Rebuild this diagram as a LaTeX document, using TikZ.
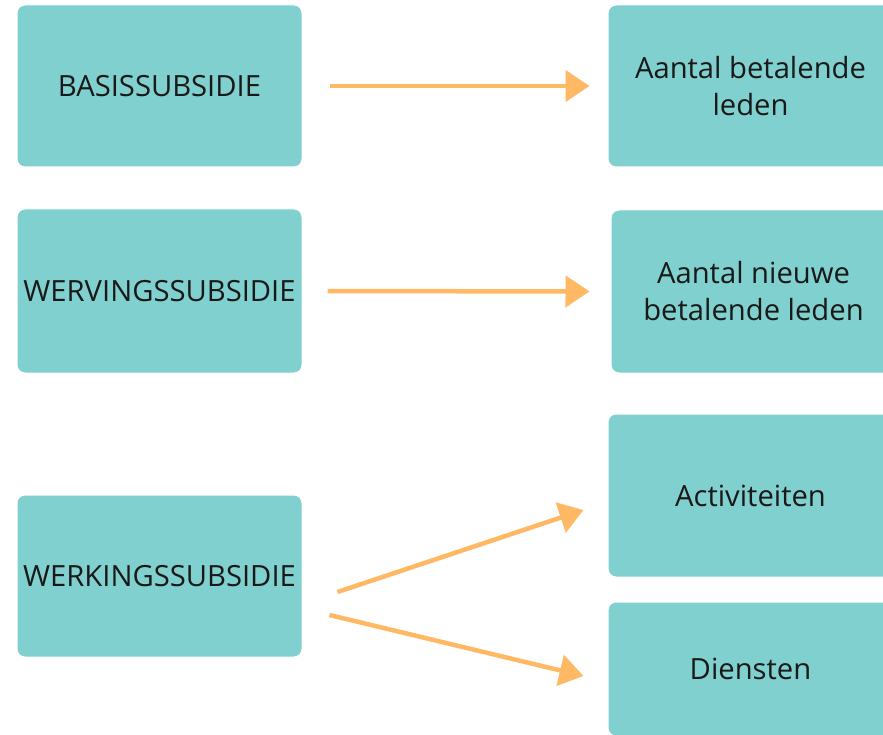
\documentclass[tikz,border=0pt]{standalone}
\usepackage{fontspec}
\setmainfont{Open Sans}
\usetikzlibrary{arrows.meta}
\definecolor{subsidieteal}{HTML}{80D0CF}
\definecolor{pijloranje}{HTML}{FFB864}

\begin{document}
\begin{tikzpicture}[x=1pt, y=-1pt, font=\fontsize{29.2}{37}\selectfont,
  box/.style={fill=subsidieteal, draw=white, line width=1pt, rounded corners=8pt, minimum width=285pt, minimum height=162pt, align=center, text=black!90},
  flow/.style={draw=pijloranje, line width=4.5pt, -{Triangle[length=24pt, width=31pt]}}]
  \useasboundingbox (0,0) rectangle (883,735);
  \begin{scope}
  \clip (0,0) rectangle (883,735);
  \node[box] (basis) at (159.5,86) {BASISSUBSIDIE};
  \node[box, minimum height=164pt] (werving) at (159.5,291) {WERVINGSSUBSIDIE};
  \node[box] (werking) at (159.5,576) {WERKINGSSUBSIDIE};
  \node[box] (leden) at (750.5,86) {Aantal betalende\\leden};
  \node[box, minimum height=163pt] (nieuw) at (753.5,291.5) {Aantal nieuwe\\betalende leden};
  \node[box, minimum height=163pt] (activ) at (750.5,495.5) {Activiteiten};
  \node[box, minimum height=134pt] (diensten) at (750.5,669) {Diensten};
  \end{scope}
  \draw[flow, shorten <=27pt, shorten >=18pt] (basis.east) -- (leden.west);
  \draw[flow, shorten <=25pt, shorten >=21pt] (werving.east) -- (nieuw.west);
  \draw[flow] ([shift={(35,16)}]werking.east) -- ([shift={(-24,14.5)}]activ.west);
  \draw[flow] ([shift={(27,39)}]werking.east) -- ([shift={(-24,7)}]diensten.west);
\end{tikzpicture}
\end{document}
